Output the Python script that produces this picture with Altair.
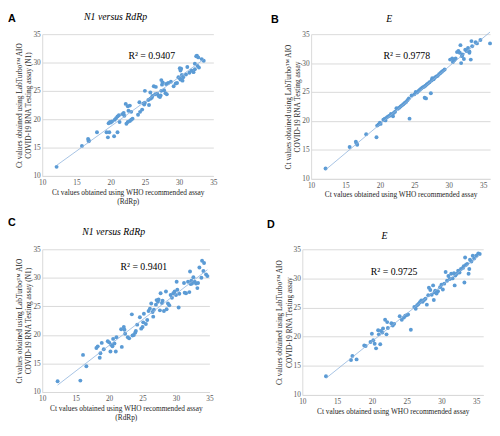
import altair as alt
import pandas as pd

# ---------------- data ----------------
a_x = [12.1, 15.8, 16.7, 16.8, 16.8, 18.0, 19.4, 19.6, 19.8, 19.7, 19.9, 20.0, 20.2, 20.5, 21.0,
       20.6, 20.8, 21.0, 21.2, 21.3, 21.7, 21.9, 22.0, 22.2, 22.5, 22.8, 22.3, 22.5, 22.8, 23.0,
       23.2, 22.6, 23.0, 24.0, 24.3, 24.6, 24.2, 24.8, 25.0, 24.9, 25.0, 25.6, 25.5, 25.8, 26.0,
       26.1, 25.8, 26.3, 26.6, 26.5, 26.8, 27.0, 27.2, 27.3, 27.4, 27.5, 27.4, 27.6, 27.8, 28.0,
       28.2, 28.1, 28.4, 28.8, 29.2, 29.5, 29.7, 29.9, 30.0, 30.1, 30.2, 30.3, 30.2, 30.4, 30.5,
       30.6, 31.0, 31.2, 31.5, 31.8, 32.1, 32.3, 32.3, 32.5, 32.6, 32.8, 32.7, 32.9, 33.3, 33.6]
a_y = [11.6, 15.3, 16.5, 16.1, 16.3, 17.7, 17.7, 16.8, 17.7, 19.3, 19.5, 19.4, 19.6, 17.0, 17.7,
       19.9, 20.2, 20.5, 20.7, 19.5, 20.9, 21.1, 20.6, 22.7, 22.3, 22.4, 19.2, 19.5, 19.7, 19.9,
       20.1, 21.5, 21.3, 20.8, 21.3, 21.7, 23.0, 22.8, 22.9, 22.6, 25.0, 22.5, 23.4, 23.6, 23.8,
       24.1, 24.7, 25.8, 25.7, 24.4, 24.5, 24.1, 23.9, 24.2, 25.0, 26.1, 26.9, 26.5, 25.1, 24.6,
       24.4, 26.2, 26.4, 26.6, 25.8, 26.3, 26.4, 27.4, 27.3, 29.0, 28.6, 28.9, 27.0, 27.8, 26.8,
       27.4, 27.9, 29.2, 28.2, 28.6, 28.3, 28.8, 29.8, 31.1, 31.2, 30.9, 29.4, 29.1, 30.6, 30.3]

b_x = [12.1, 15.6, 16.5, 16.6, 16.7, 18.0, 19.5, 19.6, 19.8, 20.0, 20.1, 20.5, 20.7, 20.8, 21.0,
       21.2, 21.4, 21.6, 21.8, 21.9, 22.0, 22.2, 22.4, 22.6, 22.8, 23.0, 23.2, 23.4, 23.6, 23.8,
       24.0, 24.2, 24.3, 24.6, 25.0, 25.2, 25.4, 25.6, 25.8, 26.0, 26.2, 26.4, 26.5, 26.7, 26.6,
       26.8, 27.0, 27.2, 27.4, 27.5, 27.6, 27.8, 28.0, 28.2, 28.4, 28.6, 28.8, 29.0, 29.2, 29.4,
       30.2, 30.5, 30.6, 30.8, 31.0, 31.2, 31.4, 31.6, 31.7, 31.8, 31.9, 32.0, 32.2, 32.4, 32.6,
       32.8, 33.0, 33.0, 33.2, 33.3, 33.4, 33.9, 34.1, 34.6, 36.0]
b_y = [11.8, 15.5, 16.4, 16.1, 15.9, 17.7, 17.2, 19.2, 19.4, 19.7, 19.5, 20.2, 20.4, 20.1, 20.6,
       20.8, 20.9, 21.2, 21.1, 20.8, 21.4, 21.6, 22.2, 22.1, 22.3, 22.5, 22.7, 22.9, 23.1, 23.3,
       23.6, 23.9, 20.4, 24.4, 24.6, 25.0, 24.9, 25.2, 25.4, 25.6, 25.8, 25.9, 24.0, 23.9, 26.1,
       26.3, 26.5, 26.7, 24.8, 27.0, 27.4, 27.2, 27.5, 27.7, 27.8, 28.1, 28.3, 28.5, 28.7, 28.9,
       30.6, 30.8, 30.2, 30.5, 30.8, 31.9, 32.1, 31.8, 33.1, 30.0, 31.2, 31.5, 30.7, 32.3, 32.1,
       32.6, 32.0, 31.8, 30.6, 33.8, 32.9, 33.6, 33.4, 34.0, 33.4]

c_x = [12.3, 15.7, 16.1, 16.6, 18.1, 18.3, 18.6, 18.7, 18.9, 19.2, 19.8, 20.0, 20.2, 20.3, 20.5,
       20.6, 20.8, 21.0, 21.1, 21.8, 21.9, 22.2, 22.3, 22.4, 22.8, 23.0, 23.4, 23.5, 23.7, 23.9,
       24.0, 24.2, 24.6, 24.8, 25.0, 25.1, 25.2, 25.5, 25.7, 25.9, 26.1, 26.3, 26.5, 26.6, 26.7,
       27.0, 27.1, 27.3, 27.4, 27.6, 27.7, 27.9, 28.0, 28.2, 28.5, 28.6, 28.8, 29.0, 29.2, 29.4,
       29.6, 29.8, 30.0, 30.1, 30.2, 30.4, 30.5, 31.2, 31.3, 31.5, 31.8, 32.0, 32.1, 32.2, 32.3,
       32.4, 32.6, 32.8, 33.0, 33.2, 33.3, 33.5, 33.8, 33.9, 34.1, 34.2, 34.5, 34.7]
c_y = [11.9, 12.0, 16.5, 14.5, 17.7, 18.0, 16.0, 16.8, 18.6, 17.5, 18.9, 18.7, 17.1, 18.3, 18.0,
       19.3, 18.5, 17.1, 19.6, 21.0, 17.9, 21.4, 20.9, 20.2, 19.6, 19.4, 23.6, 19.9, 20.0, 20.4,
       20.7, 21.8, 23.1, 21.1, 21.4, 22.2, 23.7, 21.9, 22.6, 24.2, 24.6, 25.5, 24.0, 23.2, 24.4,
       25.3, 26.1, 25.8, 26.2, 24.3, 27.3, 25.6, 26.0, 24.2, 27.6, 24.5, 25.5, 25.2, 27.0, 26.5,
       27.3, 27.6, 27.0, 29.3, 27.9, 24.8, 27.2, 29.1, 27.4, 27.3, 29.3, 27.5, 31.1, 28.9, 29.5,
       29.0, 30.1, 29.3, 29.0, 28.2, 29.1, 31.8, 30.0, 33.0, 31.2, 32.6, 30.6, 30.3]

d_x = [13.4, 17.0, 17.2, 17.8, 18.9, 19.1, 19.8, 20.0, 20.2, 20.4, 20.6, 20.9, 21.0, 21.2, 21.3,
       21.5, 21.6, 21.9, 22.1, 22.2, 22.3, 22.8, 23.0, 23.2, 24.0, 24.3, 24.6, 24.8, 25.0, 25.2,
       25.6, 26.1, 26.3, 26.5, 26.7, 26.9, 27.1, 27.3, 27.5, 27.7, 27.9, 28.1, 28.2, 28.4, 28.6,
       28.8, 28.9, 29.0, 29.1, 29.3, 29.5, 29.8, 30.0, 30.2, 30.4, 30.6, 30.8, 31.0, 31.2, 31.4,
       31.6, 31.8, 31.9, 32.0, 32.2, 32.4, 32.6, 32.8, 33.1, 33.2, 33.3, 33.4, 33.5, 33.7, 33.9,
       34.0, 34.1, 34.3, 34.5, 34.7, 35.0, 35.3, 35.5]
d_y = [13.2, 16.0, 16.7, 16.1, 18.5, 18.4, 19.1, 20.5, 19.4, 18.8, 18.0, 21.1, 20.4, 18.7, 21.0,
       20.7, 21.4, 22.9, 20.4, 22.5, 21.5, 22.3, 21.9, 22.2, 23.5, 22.9, 23.3, 23.6, 23.7, 23.8,
       21.2, 25.1, 24.8, 25.4, 25.6, 25.9, 26.2, 26.0, 26.3, 26.5, 25.5, 27.1, 28.4, 28.0, 27.2,
       28.8, 26.3, 27.6, 27.9, 27.4, 27.8, 28.5, 28.9, 28.1, 29.1, 31.1, 29.6, 30.4, 29.9, 30.8,
       30.0, 30.9, 28.8, 30.5, 30.8, 31.3, 31.0, 31.6, 31.8, 32.1, 29.3, 33.6, 32.3, 32.5, 30.8,
       31.6, 33.2, 32.9, 33.9, 33.4, 33.9, 34.3, 34.2]

letters = ["A", "B", "C", "D"]
titles = ["N1 versus RdRp", "E", "N1 versus RdRp", "E"]
r2_labels = ["R² = 0.9407", "R² = 0.9778", "R² = 0.9401", "R² = 0.9725"]
r2_pos = [(26.0, 31.1), (23.9, 31.3), (25.2, 31.9), (23.2, 31.1)]
tick_values = [10, 15, 20, 25, 30, 35]
y_title_n1 = ["Ct values obtained using LabTurbo™ AIO", "COVID-19 RNA Testing assay (N1)"]
y_title_e = ["Ct values obtained using LabTurbo™ AIO", "COVID-19 RNA Testing assay"]
x_title_n1 = ["Ct values obtained using WHO recommended assay", "(RdRp)"]
x_title_e = "Ct values obtained using WHO recommended assay"

BLUE = "#5B9BD5"
SERIF = "Liberation Serif"


def panel(xs, ys, letter, title, r2, r2xy, ytitle, xtitle, xmax, w, h,
          letter_dx, letter_dy, title_dx, title_dy):
    df = pd.DataFrame({"x": xs, "y": ys})
    xsc = alt.Scale(domain=[10, xmax], nice=False, zero=False)
    ysc = alt.Scale(domain=[10, 35], nice=False, zero=False)
    xax = alt.Axis(values=tick_values, tickCount=6, title=xtitle, grid=False, ticks=False,
                   labelOverlap=False, labelFlush=False, domain=True, domainColor="#d9d9d9",
                   labelPadding=3, titlePadding=2)
    yax = alt.Axis(values=tick_values, tickCount=6, title=ytitle, grid=True,
                   gridColor="#d9d9d9", ticks=False, labelOverlap=False, labelFlush=False,
                   domain=True, domainColor="#d9d9d9", labelPadding=2, titlePadding=0)
    X = alt.X("x:Q", scale=xsc, axis=xax)
    Y = alt.Y("y:Q", scale=ysc, axis=yax)
    base = alt.Chart(df)
    pts = base.mark_circle(size=16, color=BLUE, opacity=1).encode(x=X, y=Y)
    line = base.transform_regression("x", "y").mark_line(
        color="#8fb4dc", strokeWidth=0.8
    ).encode(x=X, y=Y)
    r2t = alt.Chart(pd.DataFrame({"x": [r2xy[0]], "y": [r2xy[1]], "t": [r2]})).mark_text(
        font=SERIF, fontSize=10, color="#000000"
    ).encode(x=X, y=Y, text="t:N")
    let = alt.Chart(pd.DataFrame({"t": [letter]})).mark_text(
        font="Liberation Sans", fontSize=11, fontWeight="bold", align="left",
        baseline="middle", color="#000000"
    ).encode(x=alt.value(letter_dx), y=alt.value(letter_dy), text="t:N")
    ttl = alt.Chart(pd.DataFrame({"t": [title]})).mark_text(
        font=SERIF, fontSize=10, fontStyle="italic", align="center",
        baseline="middle", color="#000000"
    ).encode(x=alt.value(title_dx), y=alt.value(title_dy), text="t:N")
    return alt.layer(pts, line, r2t, let, ttl).properties(width=w, height=h)


pA = panel(a_x, a_y, letters[0], titles[0], r2_labels[0], r2_pos[0], y_title_n1, x_title_n1,
           35, 175, 145, -35, -15, 75, -17)
pB = panel(b_x, b_y, letters[1], titles[1], r2_labels[1], r2_pos[1], y_title_e, x_title_e,
           36, 183, 148, -41, -14, 80, -15)
pC = panel(c_x, c_y, letters[2], titles[2], r2_labels[2], r2_pos[2], y_title_n1, x_title_n1,
           35, 171, 146, -35, -27, 73, -18)
pD = panel(d_x, d_y, letters[3], titles[3], r2_labels[3], r2_pos[3], y_title_e, x_title_e,
           36, 185, 149, -36, -25, 84, -13)

chart = alt.vconcat(
    alt.hconcat(pA, pB, spacing=55),
    alt.hconcat(pC, pD, spacing=55),
    spacing=12,
).configure_view(stroke=None).configure_axis(
    labelFont=SERIF, labelFontSize=7.5, labelColor="#595959",
    titleFont=SERIF, titleFontSize=7.5, titleColor="#262626", titleFontWeight="normal",
    titleLineHeight=9.5,
).properties(padding=0)

chart.save("out.html", embed_options={"renderer": "svg", "actions": False})
